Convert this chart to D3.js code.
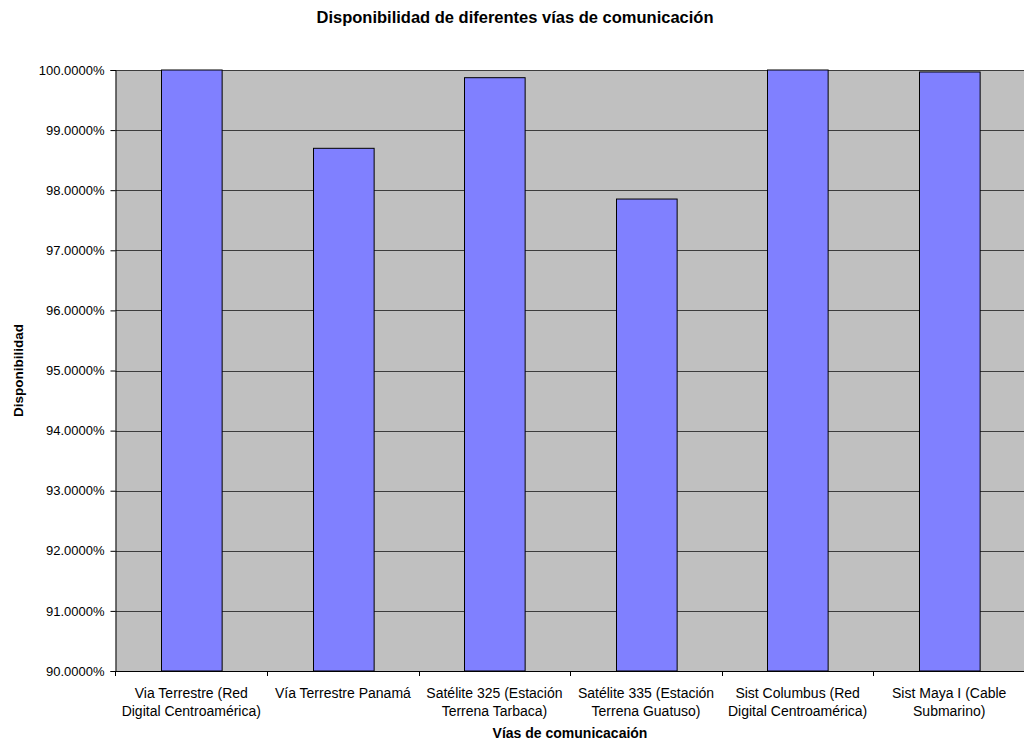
<!DOCTYPE html>
<html>
<head>
<meta charset="utf-8">
<script src="https://cdn.jsdelivr.net/npm/d3@7"></script>
<style>
  body { margin: 0; background: #fff; }
  svg { display: block; font-family: "Liberation Sans", Arial, sans-serif; }
</style>
</head>
<body>
<svg id="chart" width="1024" height="744"></svg>
<script>
// Categories (each label split into its display lines)
const categories = [
  ["Via Terrestre (Red", "Digital Centroamérica)"],
  ["Vía Terrestre Panamá"],
  ["Satélite 325 (Estación", "Terrena Tarbaca)"],
  ["Satélite 335 (Estación", "Terrena Guatuso)"],
  ["Sist Columbus (Red", "Digital Centroamérica)"],
  ["Sist Maya I (Cable", "Submarino)"]
];
// Availability, in percent
const availability = [100.0, 98.697, 99.872, 97.853, 100.0, 99.967];
const yTicks = [90, 91, 92, 93, 94, 95, 96, 97, 98, 99, 100];

const title = "Disponibilidad de diferentes vías de comunicación";
const xTitle = "Vías de comunicacaión";
const yTitle = "Disponibilidad";

const svg = d3.select("#chart");
const m = { left: 115.5, top: 70, right: 1025, bottom: 671 };

const ids = d3.range(categories.length);
const x = d3.scaleBand().domain(ids).range([m.left, m.right])
  .paddingInner(0.6).paddingOuter(0.3);
const y = d3.scaleLinear().domain([90, 100]).range([m.bottom, m.top]);

// plot background
svg.append("rect")
  .attr("x", m.left).attr("y", m.top)
  .attr("width", m.right - m.left).attr("height", m.bottom - m.top)
  .attr("fill", "#c0c0c0");

// horizontal gridlines
svg.append("g").selectAll("line").data(yTicks.slice(1)).join("line")
  .attr("x1", m.left).attr("x2", m.right)
  .attr("y1", d => Math.round(y(d)) + 0.5).attr("y2", d => Math.round(y(d)) + 0.5)
  .attr("stroke", "#3c3c3c").attr("stroke-width", 1);

// bars
svg.append("g").selectAll("rect").data(availability).join("rect")
  .attr("x", (d, i) => Math.round(x(i)) + 0.5)
  .attr("width", x.bandwidth())
  .attr("y", d => y(d))
  .attr("height", d => y(90) - y(d))
  .attr("fill", "#8080ff")
  .attr("stroke", "#000").attr("stroke-width", 1);

// y axis
const yAxis = d3.axisLeft(y).tickValues(yTicks).tickSize(5).tickPadding(6)
  .tickFormat(d => d3.format(".4f")(d) + "%");
const gy = svg.append("g").attr("transform", `translate(${m.left},0)`).call(yAxis);
gy.select(".domain").attr("stroke", "#000");
gy.selectAll(".tick line").attr("stroke", "#000");
gy.selectAll(".tick text").attr("font-size", 13).attr("fill", "#000")
  .attr("font-family", "'Liberation Sans', Arial, sans-serif");

// x axis baseline and category boundary ticks
const step = x.step();
const bounds = d3.range(categories.length + 1).map(i => x(0) - x.paddingOuter() * step + i * step);
svg.append("line")
  .attr("x1", m.left).attr("x2", m.right)
  .attr("y1", m.bottom + 0.5).attr("y2", m.bottom + 0.5)
  .attr("stroke", "#000");
svg.append("g").selectAll("line").data(bounds).join("line")
  .attr("x1", d => Math.round(d) + 0.5).attr("x2", d => Math.round(d) + 0.5)
  .attr("y1", m.bottom).attr("y2", m.bottom + 5)
  .attr("stroke", "#000");

// category labels
const lab = svg.append("g").selectAll("text").data(categories).join("text")
  .attr("text-anchor", "middle").attr("font-size", 14).attr("fill", "#000")
  .attr("x", (d, i) => x(i) + x.bandwidth() / 2)
  .attr("y", 698);
lab.selectAll("tspan").data(d => d).join("tspan")
  .attr("x", function () { return d3.select(this.parentNode).attr("x"); })
  .attr("dy", (d, i) => i === 0 ? 0 : 18)
  .text(d => d);

// titles
svg.append("text").attr("x", 515).attr("y", 23).attr("text-anchor", "middle")
  .attr("font-size", 16.5).attr("font-weight", "bold").text(title);
svg.append("text").attr("x", 570).attr("y", 738).attr("text-anchor", "middle")
  .attr("font-size", 14).attr("font-weight", "bold").text(xTitle);
svg.append("text")
  .attr("transform", `translate(23,${(m.top + m.bottom) / 2}) rotate(-90)`)
  .attr("text-anchor", "middle").attr("font-size", 13.5).attr("font-weight", "bold")
  .text(yTitle);
</script>
</body>
</html>
